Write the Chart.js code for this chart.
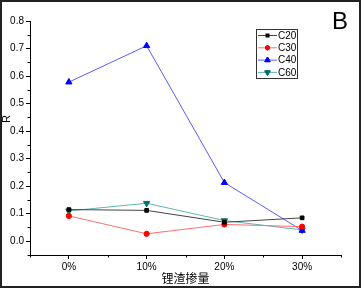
<!DOCTYPE html>
<html>
<head>
<meta charset="utf-8">
<script src="https://cdn.jsdelivr.net/npm/chart.js@4/dist/chart.umd.min.js"></script>
<style>
  html, body { margin: 0; padding: 0; background: #fff; }
  #wrap { width: 361px; height: 289px; position: relative; }
</style>
</head>
<body>
<div id="wrap"><canvas id="chart" width="361" height="289"></canvas></div>
<script>
const categories = ['0%', '10%', '20%', '30%'];
const xValues = [0, 10, 20, 30];
const seriesNames = ['C20', 'C30', 'C40', 'C60'];
const c20 = [0.115, 0.112, 0.069, 0.085];
const c30 = [0.092, 0.027, 0.061, 0.053];
const c40 = [0.578, 0.710, 0.213, 0.039];
const c60 = [0.110, 0.138, 0.075, 0.041];
const yTicks = [0, 0.1, 0.2, 0.3, 0.4, 0.5, 0.6, 0.7, 0.8];
const yMinor = [-0.05, 0.05, 0.15, 0.25, 0.35, 0.45, 0.55, 0.65, 0.75];
const xMinor = [-5, 5, 15, 25, 35];

const FONT = '"Liberation Sans", Arial, sans-serif';

function pts(vals) {
  return vals.map((v, i) => ({ x: xValues[i], y: v }));
}

function makeSet(label, vals, lineColor, pointColor, style, rotation, radius) {
  return {
    label: label,
    data: pts(vals),
    borderColor: lineColor,
    borderWidth: 1,
    backgroundColor: pointColor,
    pointBackgroundColor: pointColor,
    pointBorderColor: pointColor,
    pointBorderWidth: 1,
    pointStyle: style,
    pointRotation: rotation,
    pointRadius: radius,
    tension: 0,
    fill: false,
  };
}

// minor ticks, frame, y title, legend and panel letter
const extras = {
  id: 'extras',
  afterDraw(chart) {
    const ctx = chart.ctx;
    const x = chart.scales.x;
    const y = chart.scales.y;
    const area = chart.chartArea;
    ctx.save();
    ctx.strokeStyle = '#000';
    ctx.lineWidth = 1;
    ctx.beginPath();
    yMinor.forEach(v => {
      const py = Math.round(y.getPixelForValue(v)) + 0.5;
      ctx.moveTo(area.left - 2.5, py);
      ctx.lineTo(area.left, py);
    });
    xMinor.forEach(v => {
      const px = Math.round(x.getPixelForValue(v)) + 0.5;
      ctx.moveTo(px, area.bottom);
      ctx.lineTo(px, area.bottom + 2.5);
    });
    ctx.stroke();

    // outer frame
    ctx.strokeStyle = '#222';
    ctx.lineWidth = 2;
    ctx.strokeRect(1, 1, chart.width - 2, chart.height - 3);

    // y axis title, sits above the middle in the original
    ctx.fillStyle = '#000';
    ctx.font = '11px ' + FONT;
    ctx.textAlign = 'center';
    ctx.textBaseline = 'middle';
    ctx.save();
    ctx.translate(6.5, 119);
    ctx.rotate(-Math.PI / 2);
    ctx.fillText('R', 0, 0);
    ctx.restore();

    // panel letter
    ctx.font = '24px ' + FONT;
    ctx.fillText('B', 340, 22);

    // legend box
    const lx = 256, ly = 29, lw = 41, lh = 49;
    ctx.lineWidth = 1;
    ctx.strokeStyle = '#333';
    ctx.strokeRect(lx + 0.5, ly + 0.5, lw, lh);
    ctx.font = '10px ' + FONT;
    ctx.textAlign = 'left';
    chart.data.datasets.forEach((ds, i) => {
      const cy = ly + 6.5 + i * 12.3;
      ctx.strokeStyle = ds.borderColor;
      ctx.beginPath();
      ctx.moveTo(lx + 2, cy);
      ctx.lineTo(lx + 21, cy);
      ctx.stroke();
      ctx.fillStyle = ds.pointBackgroundColor;
      ctx.strokeStyle = ds.pointBorderColor;
      if (ds.pointStyle === 'rect') {
        ctx.fillRect(lx + 9.5, cy - 2, 4, 4);
      } else {
        Chart.helpers.drawPoint(ctx, {
          pointStyle: ds.pointStyle,
          rotation: ds.pointRotation,
          radius: ds.pointRadius - 0.5,
          borderWidth: 1,
        }, lx + 11.5, cy);
        ctx.fill();
        ctx.stroke();
      }
      ctx.fillStyle = '#000';
      ctx.fillText(ds.label, lx + 22, cy + 0.5);
    });
    ctx.restore();
  },
};

new Chart(document.getElementById('chart').getContext('2d'), {
  type: 'line',
  data: {
    datasets: [
      makeSet(seriesNames[0], c20, '#444444', '#000000', 'rect', 0, 2.6),
      makeSet(seriesNames[1], c30, '#ff7070', '#ff0000', 'circle', 0, 2.6),
      makeSet(seriesNames[2], c40, '#5c5cff', '#0000ff', 'triangle', 0, 3.6),
      makeSet(seriesNames[3], c60, '#5fb5b5', '#007070', 'triangle', 180, 3.6),
    ],
  },
  options: {
    responsive: false,
    animation: false,
    layout: { padding: { left: 0, right: 20, top: 21, bottom: 0 } },
    plugins: {
      legend: { display: false },
      tooltip: { enabled: false },
    },
    scales: {
      x: {
        type: 'linear',
        min: -5,
        max: 35,
        afterBuildTicks: (scale) => {
          scale.ticks = xValues.map(v => ({ value: v }));
        },
        afterFit: (scale) => { scale.height = 34; },
        ticks: {
          callback: (v) => categories[xValues.indexOf(v)],
          font: { size: 10, family: FONT },
          color: '#000',
          padding: 2,
          maxRotation: 0,
        },
        grid: { drawOnChartArea: false, drawTicks: true, tickLength: 4, color: '#000' },
        border: { display: true, color: '#000', width: 1 },
        title: {
          display: true,
          text: '锂渣掺量',
          font: { size: 12, family: '"Noto Sans CJK SC", ' + FONT },
          color: '#000',
          padding: { top: 0, bottom: 3 },
        },
      },
      y: {
        type: 'linear',
        min: -0.05,
        max: 0.8,
        afterBuildTicks: (scale) => {
          scale.ticks = yTicks.map(v => ({ value: v }));
        },
        afterFit: (scale) => { scale.width = 30; },
        ticks: {
          callback: (v) => v.toFixed(1),
          font: { size: 10, family: FONT },
          color: '#000',
          padding: 2,
        },
        grid: { drawOnChartArea: false, drawTicks: true, tickLength: 4, color: '#000' },
        border: { display: true, color: '#000', width: 1 },
      },
    },
  },
  plugins: [extras],
});
</script>
</body>
</html>
